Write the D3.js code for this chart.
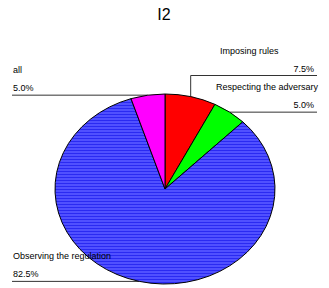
<!DOCTYPE html>
<html>
<head>
<meta charset="utf-8">
<script src="https://cdn.jsdelivr.net/npm/d3@7"></script>
<style>
  body { margin: 0; background: #fff; }
  svg text { font-family: "Liberation Sans", Arial, sans-serif; fill: #000; }
</style>
</head>
<body>
<div id="chart"></div>
<script>
// data, clockwise from 12 o'clock
var categories = ['Imposing rules', 'Respecting the adversary', 'Observing the regulation', 'all'];
var values = [7.5, 5.0, 82.5, 5.0];
var colors = ['#ff0000', '#00ff00', 'url(#bluestripes)', '#ff00ff'];

function plotPie() {
	var width = 329, height = 288;
	var cx = 165, cy = 189, rx = 110, ry = 95;

	var svg = d3.select('#chart')
		.append('svg')
		.attr('width', width)
		.attr('height', height);

	// striped blue fill, like the moire in the original
	// (pattern lives in the scaled pie group, so undo the scale)
	var defs = svg.append('defs');
	var pat = defs.append('pattern')
		.attr('id', 'bluestripes')
		.attr('patternUnits', 'userSpaceOnUse')
		.attr('patternTransform', 'scale(' + (1 / rx) + ',' + (1 / ry) + ')')
		.attr('width', 4)
		.attr('height', 3);
	pat.append('rect').attr('width', 4).attr('height', 3).attr('fill', '#5050ff');
	pat.append('rect').attr('width', 4).attr('height', 1).attr('fill', '#2a2af2');

	svg.append('text')
		.attr('x', 164)
		.attr('y', 20)
		.attr('text-anchor', 'middle')
		.style('font-size', '16px')
		.text('I2');

	var data = categories.map(function (c, i) {
		return { name: c, value: values[i], color: colors[i] };
	});

	var pie = d3.pie().sort(null).value(function (d) { return d.value; });
	var arcs = pie(data);

	// point on the ellipse edge at an angle (0 = top, clockwise)
	function edge(a) {
		return [cx + rx * Math.sin(a), cy - ry * Math.cos(a)];
	}

	// label placement: side and line height (null = at slice middle)
	var labelLayout = [
		{ side: 'right', lineY: 75.5, nameX: 220 },
		{ side: 'right', lineY: null, nameX: 216 },
		{ side: 'left', lineY: null, nameX: 13 },
		{ side: 'left', lineY: null, nameX: 13 }
	];

	var lines = svg.append('g');
	var texts = svg.append('g');
	arcs.forEach(function (d, i) {
		var mid = (d.startAngle + d.endAngle) / 2;
		var p = edge(mid);
		var lay = labelLayout[i];
		var ly = lay.lineY == null ? p[1] : lay.lineY;
		var x0 = lay.side === 'right' ? 317 : 12;
		lines.append('path')
			.attr('d', d3.line()([[x0, ly], [p[0], ly], [p[0], p[1]]]))
			.attr('fill', 'none')
			.attr('stroke', '#333')
			.attr('stroke-width', 1);
		texts.append('text')
			.attr('x', lay.nameX)
			.attr('y', ly - 22)
			.style('font-size', '9px')
			.text(d.data.name);
		texts.append('text')
			.attr('x', lay.side === 'right' ? 314 : 13)
			.attr('y', ly - 4)
			.attr('text-anchor', lay.side === 'right' ? 'end' : 'start')
			.style('font-size', '9px')
			.text(d3.format('.1f')(d.data.value) + '%');
	});

	// unit circle arcs, squashed into the ellipse
	var arc = d3.arc().innerRadius(0).outerRadius(1);
	var g = svg.append('g')
		.attr('transform', 'translate(' + cx + ',' + cy + ') scale(' + rx + ',' + ry + ')');
	g.selectAll('path')
		.data(arcs)
		.enter().append('path')
		.attr('d', arc)
		.attr('fill', function (d) { return d.data.color; })
		.attr('stroke', '#000')
		.attr('stroke-width', 1)
		.attr('vector-effect', 'non-scaling-stroke');

	// the blue slice label runs over the pie in the original
	texts.raise();
}

plotPie();
</script>
</body>
</html>
